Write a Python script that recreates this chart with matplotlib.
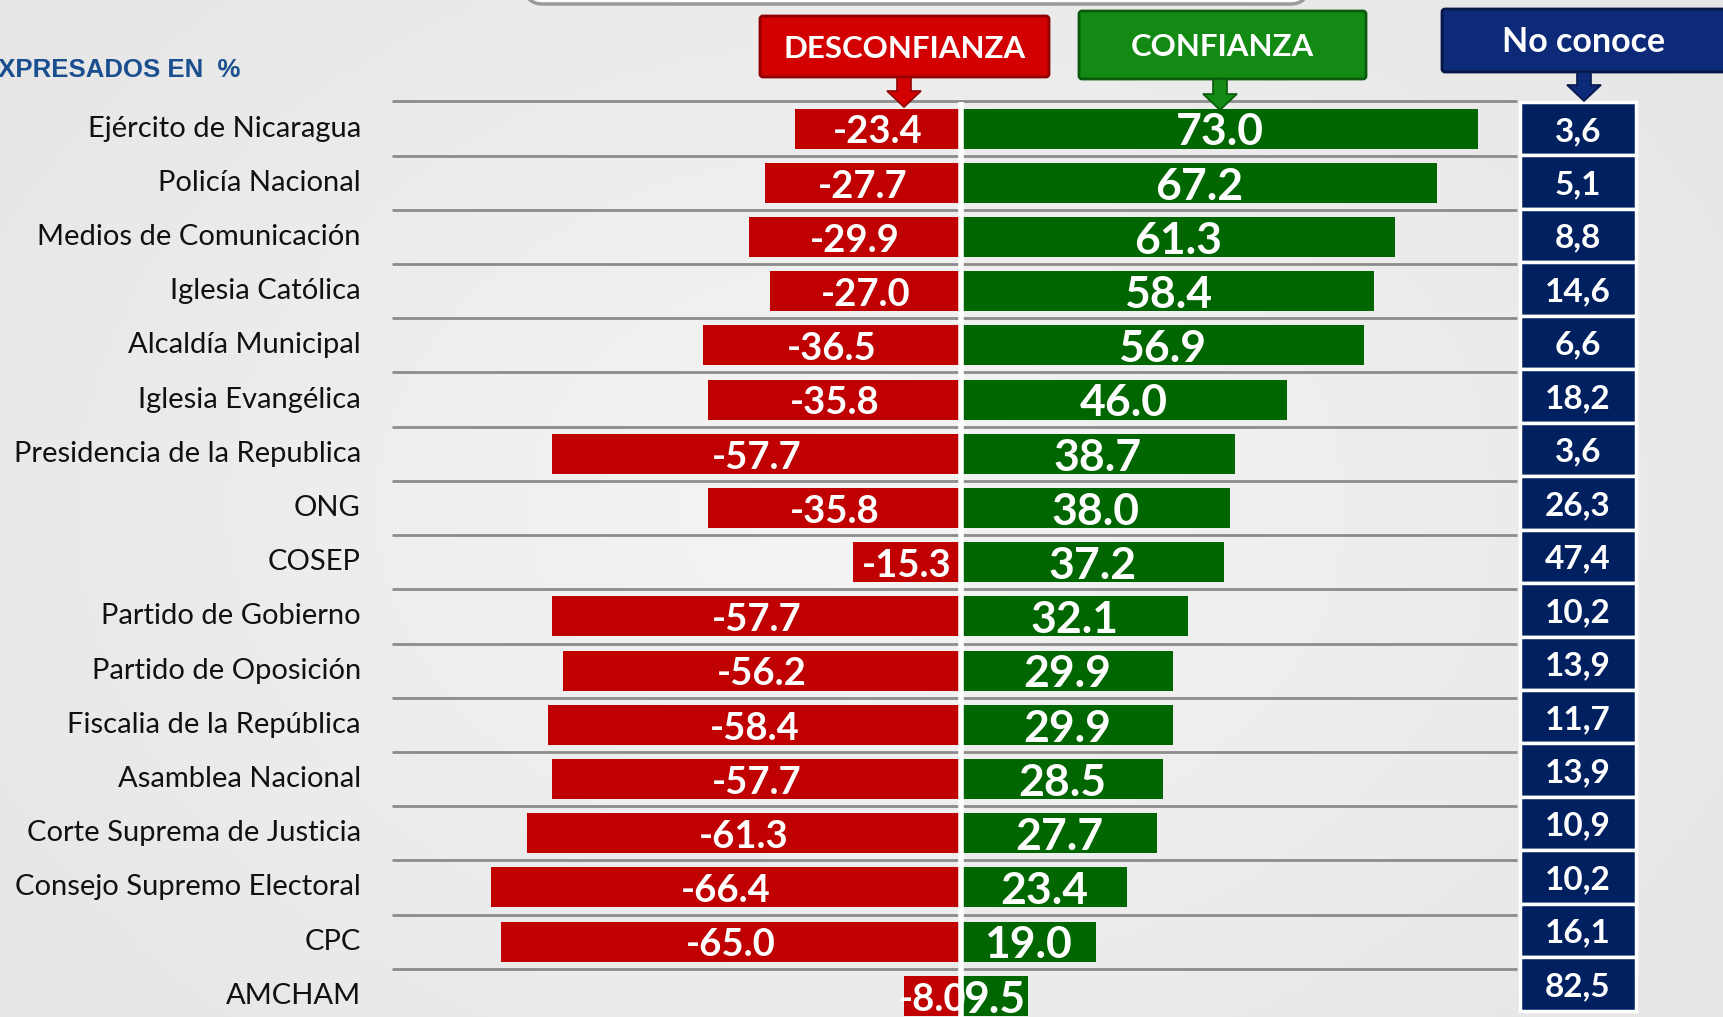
import numpy as np
import matplotlib.pyplot as plt
from matplotlib.patches import FancyBboxPatch, Polygon

plt.rcParams['font.family'] = ['Lato', 'DejaVu Sans']

categorias = ["Ejército de Nicaragua", "Policía Nacional", "Medios de Comunicación",
              "Iglesia Católica", "Alcaldía Municipal", "Iglesia Evangélica",
              "Presidencia de la Republica", "ONG", "COSEP", "Partido de Gobierno",
              "Partido de Oposición", "Fiscalia de la República", "Asamblea Nacional",
              "Corte Suprema de Justicia", "Consejo Supremo Electoral", "CPC", "AMCHAM"]
desconfianza = [-23.4, -27.7, -29.9, -27.0, -36.5, -35.8, -57.7, -35.8, -15.3,
                -57.7, -56.2, -58.4, -57.7, -61.3, -66.4, -65.0, -8.0]
confianza = [73.0, 67.2, 61.3, 58.4, 56.9, 46.0, 38.7, 38.0, 37.2,
             32.1, 29.9, 29.9, 28.5, 27.7, 23.4, 19.0, 9.5]
no_conoce = [3.6, 5.1, 8.8, 14.6, 6.6, 18.2, 3.6, 26.3, 47.4,
             10.2, 13.9, 11.7, 13.9, 10.9, 10.2, 16.1, 82.5]
encabezados = ["DESCONFIANZA", "CONFIANZA", "No conoce"]
unidad = "EXPRESADOS EN  %"

ROJO = "#C00000"
VERDE = "#006600"
AZUL = "#002060"

W, H = 1723, 1017
fig = plt.figure(figsize=(W / 100, H / 100), dpi=100)

# fondo con viñeta suave
bg = fig.add_axes([0, 0, 1, 1], zorder=0)
yy, xx = np.mgrid[0:1:200j, 0:1:340j]
r = np.sqrt((xx - 0.5) ** 2 + ((yy - 0.5) * 0.8) ** 2)
bg.imshow(0.955 - 0.09 * r, cmap="gray", vmin=0, vmax=1, aspect="auto",
          extent=[0, 1, 0, 1])
bg.axis("off")

n = len(categorias)
y = np.arange(n)
row_px = 54.2
top_px = 101.5
x0_px, x1_px, zero_px, ppu = 392, 1517, 961, 7.08

ax = fig.add_axes([x0_px / W, 0, (x1_px - x0_px) / W, (H - top_px) / H], zorder=1)
ax.patch.set_alpha(0)
xmin, xmax = -(zero_px - x0_px) / ppu, (x1_px - zero_px) / ppu
ax.set_xlim(xmin, xmax)
ax.set_ylim(-0.5 + (H - top_px) / row_px, -0.5)
ax.axis("off")

ax.hlines(np.arange(n) - 0.5, xmin, xmax, color="#8c8c8c", lw=2, clip_on=False, zorder=1)
ax.barh(y, desconfianza, height=0.74, color=ROJO, zorder=2)
ax.barh(y, confianza, height=0.74, color=VERDE, zorder=2)
ax.axvline(0, color="white", lw=4, zorder=3)

for i in range(n):
    d, c = desconfianza[i], confianza[i]
    ax.text(d / 2, i + 0.07, f"{d:.1f}", color="white", fontsize=27.5, fontweight="bold",
            ha="center", va="center", zorder=4)
    ax.text(c / 2, i + 0.07, f"{c:.1f}", color="white", fontsize=32, fontweight="bold",
            ha="center", va="center", zorder=4)
    ax.text(xmin - 4.4, i, categorias[i], color="#111111", fontsize=21,
            ha="right", va="center", clip_on=False)

# columna "No conoce"
cell_px = 53.45
bx = fig.add_axes([1520 / W, (H - 102 - n * cell_px) / H, 116 / W, n * cell_px / H], zorder=2)
bx.set_xlim(0, 1)
bx.set_ylim(n, 0)
bx.axis("off")
bx.barh(y + 0.5, 1, height=1, left=0, color=AZUL, edgecolor="white", lw=2.5, clip_on=False)
for i, v in enumerate(no_conoce):
    bx.text(0.5, i + 0.55, f"{v:.1f}".replace(".", ","), color="white", fontsize=24,
            fontweight="bold", ha="center", va="center")

# encabezados en píxeles de la figura
ov = fig.add_axes([0, 0, 1, 1], zorder=5)
ov.set_xlim(0, W)
ov.set_ylim(H, 0)
ov.axis("off")
ov.patch.set_alpha(0)

ov.add_patch(FancyBboxPatch((525, -80), 783, 84, boxstyle="round,pad=0,rounding_size=18",
                            facecolor="white", edgecolor="#9a9a9a", lw=2.5))

cajas = [((760, 16), 289, 61, "#D20000", "#8f0000", 904, 107, 22.5),
         ((1079, 11), 287, 68, "#138a13", "#0b5a0b", 1220, 110, 22.5),
         ((1442, 9), 300, 63, "#0d2a78", "#061848", 1584, 101, 24.5)]
for (pos, w, h, fc, ec, ax_x, tip, fs), txt in zip(cajas, encabezados):
    ov.add_patch(FancyBboxPatch(pos, w, h, boxstyle="round,pad=0,rounding_size=3",
                                facecolor=fc, edgecolor=ec, lw=2))
    yb = pos[1] + h
    ov.add_patch(Polygon([(ax_x - 7, yb), (ax_x + 7, yb), (ax_x + 7, tip - 16),
                          (ax_x + 17, tip - 16), (ax_x, tip), (ax_x - 17, tip - 16),
                          (ax_x - 7, tip - 16)], closed=True, facecolor=fc, edgecolor=ec, lw=1.2))
    cx = pos[0] + w / 2 if txt != "No conoce" else ax_x
    ov.text(cx, pos[1] + h / 2 + 2, txt, color="white", fontsize=fs, fontweight="bold",
            ha="center", va="center")

ov.text(240, 70, unidad, color="#1a4f8f", fontsize=18.5, fontweight="bold",
        family=["Liberation Sans", "DejaVu Sans"], ha="right", va="center")

fig.savefig("out.png", dpi=100)
